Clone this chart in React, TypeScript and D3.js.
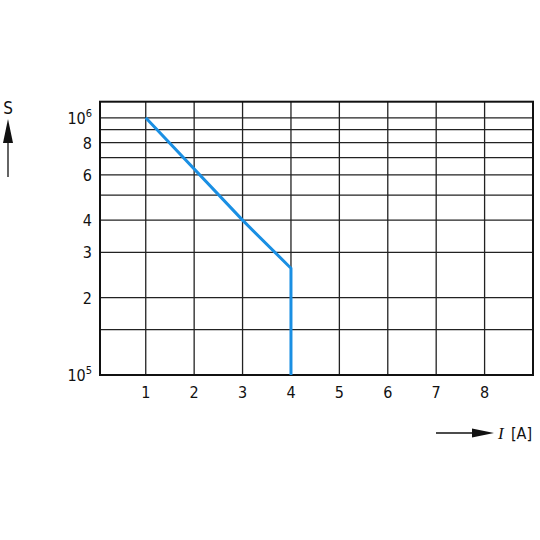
import React from 'react';
import * as d3 from 'd3';

// curve: current [A] vs time [s]
const current = [1, 3, 4, 4];
const seconds = [1e6, 4e5, 2.6e5, 1e5];

const xTicks = [1, 2, 3, 4, 5, 6, 7, 8];
const yGrid = [1.5e5, 2e5, 3e5, 4e5, 5e5, 6e5, 7e5, 8e5, 9e5, 1e6];
const yLabelValues = [2e5, 3e5, 4e5, 6e5, 8e5];
const yLabelTexts = ['2', '3', '4', '6', '8'];

const W = 540;
const H = 540;
const left = 100, right = 533, top = 101.7, bottom = 375;
const FONT = "'Liberation Sans Narrow', 'DejaVu Sans Condensed', 'Open Sans', sans-serif";

const App = () => {
  const x = d3.scaleLinear().domain([0.055, 9]).range([left, right]);
  const y = d3.scaleLog().domain([1e5, 1.155e6]).range([bottom, top]);

  const line = d3.line<number>()
    .x((_, i) => x(current[i]))
    .y(d => y(d));

  return (
    <svg width={W} height={H} style={{ position: 'absolute', left: 0, top: 0, background: '#fff' }}
      fontFamily={FONT} fill="#111">
      {/* grid */}
      {yGrid.map(v => (
        <line key={'h' + v} x1={left} x2={right} y1={y(v)} y2={y(v)} stroke="#222" strokeWidth={1.3} />
      ))}
      {xTicks.map(v => (
        <line key={'v' + v} x1={x(v)} x2={x(v)} y1={top} y2={bottom} stroke="#222" strokeWidth={1.3} />
      ))}
      <rect x={left} y={top} width={right - left} height={bottom - top} fill="none" stroke="#111" strokeWidth={2} />

      {/* curve */}
      <path d={line(seconds) ?? ''} fill="none" stroke="#1a8fe3" strokeWidth={3} />

      {/* x tick labels */}
      {xTicks.map(v => (
        <text key={'xt' + v} x={x(v)} y={bottom + 23} textAnchor="middle" fontSize={16}>{v}</text>
      ))}

      {/* y tick labels */}
      {yLabelValues.map((v, i) => (
        <text key={'yt' + v} x={left - 8} y={y(v) + 6} textAnchor="end" fontSize={16}>{yLabelTexts[i]}</text>
      ))}
      <text x={left - 8} y={y(1e6) + 6} textAnchor="end" fontSize={16}>
        10<tspan fontSize={11} dy={-7}>6</tspan>
      </text>
      <text x={left - 8} y={y(1e5) + 6} textAnchor="end" fontSize={16}>
        10<tspan fontSize={11} dy={-7}>5</tspan>
      </text>

      {/* y axis title with arrow */}
      <text x={8} y={114} textAnchor="middle" fontSize={17}>S</text>
      <line x1={8} x2={8} y1={140} y2={177} stroke="#111" strokeWidth={1.3} />
      <path d="M8,119 L3,143 L13,143 Z" fill="#111" />

      {/* x axis title with arrow */}
      <line x1={436} x2={475} y1={433} y2={433} stroke="#111" strokeWidth={1.3} />
      <path d="M494,433 L472,428.5 L472,437.5 Z" fill="#111" />
      <text x={498} y={439} fontSize={17} fontStyle="italic" fontFamily="'Liberation Serif', serif">I</text>
      <text x={511} y={439} fontSize={16}>[A]</text>
    </svg>
  );
};

export default App;
